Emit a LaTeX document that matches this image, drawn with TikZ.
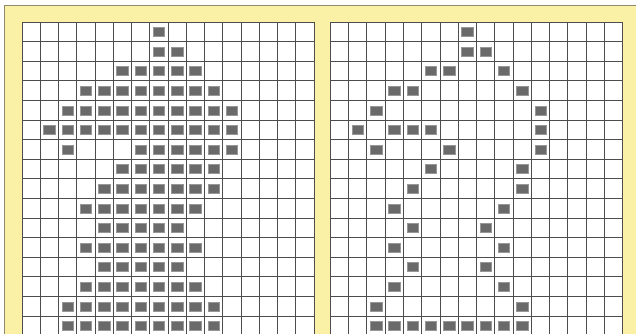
\documentclass[tikz,border=0pt]{standalone}
\usepackage{tikz}
\definecolor{padyellow}{HTML}{FBF1A6}
\definecolor{padframe}{HTML}{8E8B6C}
\definecolor{gridgray}{HTML}{4D4D4D}
\definecolor{stitchgray}{HTML}{6A6A6A}

\begin{document}
\begin{tikzpicture}[
    x=1pt,y=-1pt,
    gl/.style = {gridgray,line width=0.8pt},
    px/.style = {rectangle,fill=stitchgray,draw=stitchgray!70,line width=0.3pt,
                 minimum width=11.5pt,minimum height=9pt,inner sep=0pt},
  ]

  \useasboundingbox (0,0) rectangle (636,334);
  \clip (0,0) rectangle (636,334);

  % yellow pad
  \fill[padyellow] (4,5) rectangle (636,334);
  \draw[padframe,line width=0.8pt] (4,334) -- (4,5) -- (636,5);

  % left chart: filled shape
  \begin{scope}[shift={(22,22)}]
    \fill[white] (0,0) rectangle (292,314);
    \foreach \i in {0,...,16} \draw[gl] ({\i*18.25},0) -- ({\i*18.25},314);
    \foreach \j in {0,...,16} \draw[gl] (0,{\j*19.6}) -- (292,{\j*19.6});
    \foreach \r/\cols in {0/{7},1/{7,8},2/{5,...,9},3/{3,...,10},4/{2,...,11},
                          5/{1,...,11},6/{2,6,7,8,9,10,11},7/{5,...,10},
                          8/{4,...,10},9/{3,...,9},10/{4,...,8},11/{3,...,9},
                          12/{4,...,8},13/{3,...,9},14/{2,...,10},15/{2,...,10}}
      \foreach \c in \cols
        \node[px] (L\r-\c) at ({(\c+0.5)*18.25},{(\r+0.5)*19.6}) {};
  \end{scope}

  % right chart: outline only
  \begin{scope}[shift={(330.3,22)}]
    \fill[white] (0,0) rectangle (292.3,314);
    \foreach \i in {0,...,16} \draw[gl] ({\i*18.27},0) -- ({\i*18.27},314);
    \foreach \j in {0,...,16} \draw[gl] (0,{\j*19.6}) -- (292.3,{\j*19.6});
    \foreach \r/\cols in {0/{7},1/{7,8},2/{5,6,9},3/{3,4,10},4/{2,11},
                          5/{1,3,4,5,11},6/{2,6,11},7/{5,10},8/{4,10},9/{3,9},
                          10/{4,8},11/{3,9},12/{4,8},13/{3,9},14/{2,10},
                          15/{2,...,10}}
      \foreach \c in \cols
        \node[px] (R\r-\c) at ({(\c+0.5)*18.27},{(\r+0.5)*19.6}) {};
  \end{scope}

\end{tikzpicture}
\end{document}
